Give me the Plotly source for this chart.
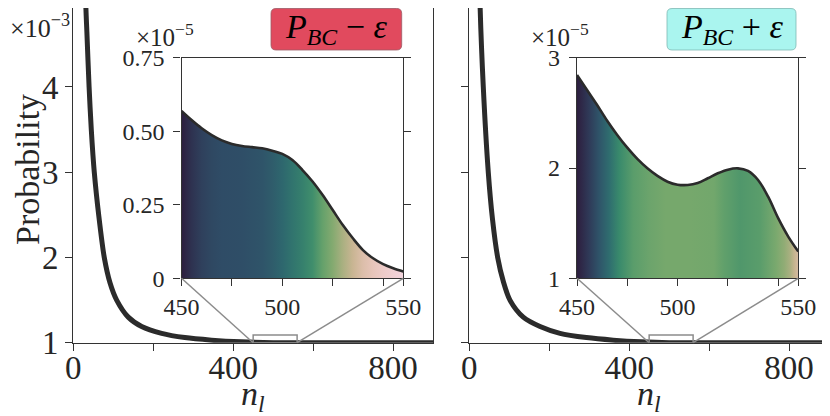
import plotly.graph_objects as go
from plotly.colors import sample_colorscale

W, H = 830, 416
OFF = 8  # the page body margin shifts the figure by this many pixels

# main curves, probability in units of 1e-3
n_left = [20, 31, 34, 39.5, 45, 52.5, 64, 77.5, 92, 108.5, 137.5, 171, 221, 279, 346, 420, 500, 600, 700, 800, 900]
p_left = [7.5, 5.0, 4.64, 4.0, 3.5, 3.0, 2.48, 2.0, 1.70, 1.50, 1.30, 1.19, 1.11, 1.06, 1.03, 1.01, 1.0, 1.0, 1.0, 1.0, 1.0]
n_right = [18, 26.7, 35, 47.5, 58, 71, 85, 101.7, 135, 177, 227, 293, 360, 430, 500, 600, 700, 800, 900]
p_right = [7.5, 5.0, 4.0, 3.0, 2.45, 2.0, 1.72, 1.5, 1.3, 1.19, 1.11, 1.06, 1.03, 1.01, 1.0, 1.0, 1.0, 1.0, 1.0]

# zoomed window, probability in units of 1e-5
zoom_n = [450, 455, 460, 465, 470, 475, 480, 485, 490, 495, 500, 505, 510,
          515, 520, 525, 530, 535, 540, 545, 550, 555, 560]
zoom_p_left = [0.569, 0.538, 0.510, 0.487, 0.469, 0.457, 0.450, 0.446, 0.442, 0.434, 0.423, 0.402, 0.368,
               0.329, 0.283, 0.232, 0.181, 0.136, 0.096, 0.068, 0.048, 0.034, 0.023]
zoom_p_right = [2.843, 2.707, 2.571, 2.429, 2.30, 2.184, 2.082, 1.997, 1.928, 1.876, 1.849, 1.846, 1.864,
                1.907, 1.952, 1.985, 1.997, 1.973, 1.891, 1.740, 1.545, 1.378, 1.242]

# colour value (0..1 on the colour map) under the zoomed curves
shade_n_left = [450, 455, 460, 465, 470, 480, 490, 495, 500, 505, 510, 515, 520, 525, 530, 535, 540, 545, 550, 555, 560]
shade_v_left = [0.0, 0.07, 0.13, 0.17, 0.19, 0.20, 0.22, 0.25, 0.29, 0.33, 0.37, 0.42, 0.53, 0.61, 0.69, 0.75, 0.81, 0.87, 0.92, 0.96, 1.0]
shade_n_right = [450, 456, 461, 466, 471, 478, 486, 494, 506, 518, 523, 531, 541, 549, 553, 556, 558, 560]
shade_v_right = [0.0, 0.10, 0.22, 0.31, 0.40, 0.50, 0.55, 0.58, 0.58, 0.57, 0.52, 0.47, 0.50, 0.59, 0.64, 0.69, 0.74, 0.79]

main_xticks = [0, 200, 400, 600, 800]
main_xlabels = ['0', '', '400', '', '800']
main_yticks = [1, 2, 3, 4]
main_ylabels = ['1', '2', '3', '4']
inset_xticks = [450, 475, 500, 525, 550, 560]
inset_xlabels = ['450', '', '500', '', '', '550']
left_inset_yticks = [0, 0.25, 0.5, 0.75]
left_inset_ylabels = ['0', '0.25', '0.50', '0.75']
right_inset_yticks = [1, 2, 3]
right_inset_ylabels = ['1', '2', '3']

CMAP = [[0.00, 'rgb(45,30,62)'], [0.10, 'rgb(47,58,88)'], [0.20, 'rgb(47,78,103)'],
        [0.30, 'rgb(46,106,111)'], [0.40, 'rgb(57,138,108)'], [0.50, 'rgb(90,157,107)'],
        [0.58, 'rgb(118,168,108)'], [0.66, 'rgb(154,174,120)'], [0.74, 'rgb(198,180,143)'],
        [0.82, 'rgb(223,191,174)'], [0.90, 'rgb(236,200,194)'], [1.00, 'rgb(243,213,222)']]

FONT = 'Liberation Serif'
TXT = '#262626'
LINE = '#333333'
CURVE = '#2b2b2b'
GREY = '#8c8c8c'


def px(x):
    return (x - OFF) / W


def py(y):
    return min(1.0, 1 - (y - OFF) / H)


def gradient(ns, vs):
    cols = sample_colorscale(CMAP, vs)
    return [[(n - 450) / 110, c] for n, c in zip(ns, cols)]


def axis(domain, rng, size, **kw):
    d = dict(domain=domain, range=rng, showline=True, mirror=True, linecolor=LINE, linewidth=1.3,
             ticks='outside', ticklen=7, tickwidth=1.3, tickcolor=LINE, showgrid=False,
             zeroline=False, tickmode='array', automargin=False,
             tickfont=dict(family=FONT, size=size, color=TXT))
    d.update(kw)
    return d


main_x_left = [px(73.3), px(433)]
main_x_right = [px(469.3), px(829)]
main_y = [py(342.7), 1.0]
# main axis: 1 at y=342.7px, 85.25px per unit; the top is cut where the page starts
main_yrange = [1, 1 + (342.7 - OFF) / 85.25]
inset_x_left = [px(181.5), px(403.3)]
inset_x_right = [px(577), px(798.3)]
inset_y = [py(278.3), py(57.7)]

fig = go.Figure()
fig.add_trace(go.Scatter(x=n_left, y=p_left, mode='lines', xaxis='x', yaxis='y',
                         line=dict(color=CURVE, width=5, shape='spline', smoothing=0.8)))
fig.add_trace(go.Scatter(x=n_right, y=p_right, mode='lines', xaxis='x2', yaxis='y2',
                         line=dict(color=CURVE, width=5, shape='spline', smoothing=0.8)))
fig.add_trace(go.Scatter(x=zoom_n, y=zoom_p_left, mode='lines', xaxis='x3', yaxis='y3',
                         line=dict(color=CURVE, width=2.6, shape='spline'), fill='tozeroy',
                         fillgradient=dict(type='horizontal', colorscale=gradient(shade_n_left, shade_v_left),
                                           start=450, stop=560)))
fig.add_trace(go.Scatter(x=zoom_n, y=zoom_p_right, mode='lines', xaxis='x4', yaxis='y4',
                         line=dict(color=CURVE, width=2.6, shape='spline'), fill='tozeroy',
                         fillgradient=dict(type='horizontal', colorscale=gradient(shade_n_right, shade_v_right),
                                           start=450, stop=560)))

fig.update_layout(
    width=W, height=H, margin=dict(l=0, r=0, t=0, b=0, pad=0, autoexpand=False), showlegend=False,
    paper_bgcolor='white', plot_bgcolor='white',
    xaxis=axis(main_x_left, [0, 900], 33, anchor='y', tickvals=main_xticks, ticktext=main_xlabels,
               ticklabelstandoff=-11),
    yaxis=axis(main_y, main_yrange, 33, anchor='x', tickvals=main_yticks, ticktext=main_ylabels),
    xaxis2=axis(main_x_right, [0, 900], 33, anchor='y2', tickvals=main_xticks, ticktext=main_xlabels,
                ticklabelstandoff=-11),
    yaxis2=axis(main_y, main_yrange, 33, anchor='x2', tickvals=main_yticks, showticklabels=False),
    xaxis3=axis(inset_x_left, [450, 560], 24, anchor='y3', tickvals=inset_xticks, ticktext=inset_xlabels),
    yaxis3=axis(inset_y, [0, 0.75], 24, anchor='x3', tickvals=left_inset_yticks,
                ticktext=left_inset_ylabels, mirror='ticks', ticklabelstandoff=4),
    xaxis4=axis(inset_x_right, [450, 560], 24, anchor='y4', tickvals=inset_xticks, ticktext=inset_xlabels),
    yaxis4=axis(inset_y, [1, 3], 24, anchor='x4', tickvals=right_inset_yticks,
                ticktext=right_inset_ylabels, mirror='ticks', ticklabelstandoff=4),
)


def to_paper(dom_x, dom_y, xr, yr, x, y):
    fx = (x - xr[0]) / (xr[1] - xr[0])
    fy = (y - yr[0]) / (yr[1] - yr[0])
    return dom_x[0] + fx * (dom_x[1] - dom_x[0]), dom_y[0] + fy * (dom_y[1] - dom_y[0])


def rounded_box(x0, y0, x1, y1, r=5):
    # pixel corners -> paper path with rounded corners
    ax, bx = px(x0), px(x1)
    ay, by = py(y1), py(y0)
    rx, ry = r / W, r / H
    return (f'M {ax + rx},{ay} L {bx - rx},{ay} Q {bx},{ay} {bx},{ay + ry} '
            f'L {bx},{by - ry} Q {bx},{by} {bx - rx},{by} L {ax + rx},{by} '
            f'Q {ax},{by} {ax},{by - ry} L {ax},{ay + ry} Q {ax},{ay} {ax + rx},{ay} Z')


shapes = []
for xref, yref, dom_x, inset_dom in [('x', 'y', main_x_left, inset_x_left), ('x2', 'y2', main_x_right, inset_x_right)]:
    shapes.append(dict(type='rect', xref=xref, yref=yref, x0=450, x1=560, y0=1.0, y1=1.09,
                       line=dict(color=GREY, width=1.5), layer='above'))
    for edge_n, edge_x in [(450, inset_dom[0]), (560, inset_dom[1])]:
        cx, cy = to_paper(dom_x, main_y, [0, 900], main_yrange, edge_n, 1.0)
        shapes.append(dict(type='line', xref='paper', yref='paper', x0=edge_x, y0=inset_y[0],
                           x1=cx, y1=cy, line=dict(color=GREY, width=1.5), layer='above'))

shapes.append(dict(type='path', xref='paper', yref='paper', path=rounded_box(271, 8.5, 401.7, 50),
                   fillcolor='#e14a5e', line=dict(color='#9c5a64', width=0.8), layer='above'))
shapes.append(dict(type='path', xref='paper', yref='paper', path=rounded_box(667, 8.5, 796, 50),
                   fillcolor='#aaf5ef', line=dict(color='#7fb9b4', width=0.8), layer='above'))
fig.update_layout(shapes=shapes)

ann = dict(xref='paper', yref='paper', showarrow=False, font=dict(family=FONT, color=TXT))
annotations = [
    dict(ann, x=px(72), y=py(27), xanchor='right', yanchor='middle', text='×10<sup>−3</sup>',
         font=dict(family=FONT, color=TXT, size=26)),
    dict(ann, x=px(134), y=py(35), xanchor='left', yanchor='middle', text='×10<sup>−5</sup>',
         font=dict(family=FONT, color=TXT, size=25)),
    dict(ann, x=px(529), y=py(35), xanchor='left', yanchor='middle', text='×10<sup>−5</sup>',
         font=dict(family=FONT, color=TXT, size=25)),
    dict(ann, x=px(28), y=py(170), xanchor='center', yanchor='middle', text='Probability', textangle=-90,
         font=dict(family=FONT, color=TXT, size=34)),
    dict(ann, x=px(253), y=py(396), xanchor='center', yanchor='middle', text='<i>n</i><sub><i>l</i></sub>',
         font=dict(family=FONT, color=TXT, size=34)),
    dict(ann, x=px(649), y=py(396), xanchor='center', yanchor='middle', text='<i>n</i><sub><i>l</i></sub>',
         font=dict(family=FONT, color=TXT, size=34)),
    dict(ann, x=px(336), y=py(29), xanchor='center', yanchor='middle',
         text='<i>P</i><sub><i>BC</i></sub> − <i>ε</i>', font=dict(family=FONT, color='black', size=34)),
    dict(ann, x=px(731.5), y=py(29), xanchor='center', yanchor='middle',
         text='<i>P</i><sub><i>BC</i></sub> + <i>ε</i>', font=dict(family=FONT, color='black', size=34)),
]
fig.update_layout(annotations=annotations)

fig.write_html("out.html")
